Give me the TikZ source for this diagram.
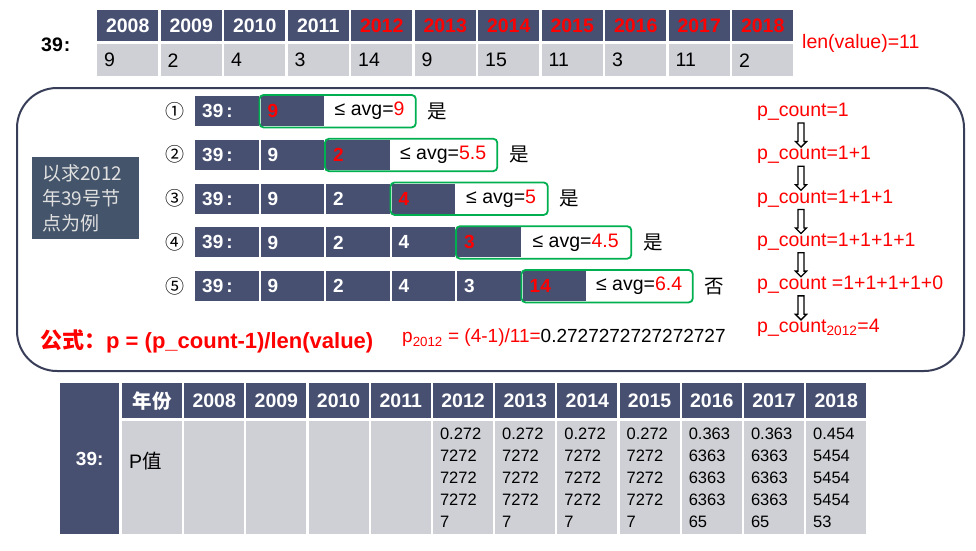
\documentclass[tikz,border=0pt]{standalone}
\usepackage{fontspec}
\setmainfont{Liberation Sans}
\newfontfamily\cjk{Noto Sans CJK SC}
\usetikzlibrary{positioning,fit,calc,shapes.arrows}

\definecolor{navy}{RGB}{71,80,113}
\definecolor{cellgray}{RGB}{207,208,213}
\definecolor{slate}{RGB}{68,84,106}
\definecolor{okgreen}{RGB}{0,176,80}
\definecolor{framecol}{RGB}{56,62,88}

\newcommand{\fs}[1]{\fontsize{#1}{#1}\selectfont}

\tikzset{
  headcell/.style={fill=navy, text=white, font=\bfseries\fs{19.5}, minimum width=61, minimum height=31, inner sep=0, anchor=north west},
  datacell/.style={fill=cellgray, font=\fs{19.5}, text width=47, inner xsep=7, inner ysep=0, minimum height=32, align=left, anchor=north west},
  rowcell/.style={fill=navy, text=white, font=\bfseries\fs{19}, text width=49.5, inner xsep=7, inner ysep=0, minimum height=30, align=left, anchor=north west},
  avgtext/.style={font=\fs{19.5}, minimum height=30, inner sep=0},
  greenbox/.style={draw=okgreen, line width=1.8, rounded corners=4, inner sep=1},
  answer/.style={font=\cjk\fs{19.5}, inner sep=0},
  numlabel/.style={font=\cjk\fs{19}, inner sep=0},
  countlabel/.style={text=red, font=\fs{19.5}, inner sep=0, anchor=west},
  downarrow/.style={single arrow, draw=black, fill=white, line width=1.3, minimum height=24, inner sep=2.3, single arrow head extend=2.6, shape border rotate=270},
  notebox/.style={fill=slate, text=white!88!black, font=\cjk\fontsize{19}{25}\selectfont, text width=87, inner xsep=10, minimum height=82, align=left, anchor=north west},
  pcell/.style={fill=cellgray, font=\fontsize{16.5}{22}\selectfont, text width=46, inner xsep=7, inner ysep=0, minimum height=113, align=left, anchor=north west}
}

\begin{document}
\begin{tikzpicture}[x=1pt, y=-1pt]
  \useasboundingbox (0,0) rectangle (976,550);

  % top table
  \node[font=\bfseries\fs{19.5}, anchor=west, inner sep=0] (lab) at (41,45) {39\kern1pt:};
  \foreach \yr/\val [count=\i from 0] in {2008/9,2009/2,2010/4,2011/3,2012/14,2013/9,2014/15,2015/11,2016/3,2017/11,2018/2}{
    \ifnum\yr>2011 \def\hc{red}\else\def\hc{white}\fi
    \node[headcell, text=\hc] (h\yr) at (97+63.5*\i,10) {\yr};
    \node[datacell] (d\yr) at (97+63.5*\i,44) {\val};
  }
  \node[countlabel] (len) at (802,43) {len(value)=11};

  % frame
  \draw[framecol, line width=2, rounded corners=40] (17,88) rectangle (964,371);

  \node[notebox] (note) at (32,157) {以求2012\\年39号节\\点为例};

  % steps
  \foreach \k/\v/\avg/\w/\ans/\num in {1/9/9/90/是/①, 2/2/5.5/106/是/②, 3/4/5/91/是/③, 4/3/4.5/109/是/④, 5/14/6.4/105/否/⑤}{
    \pgfmathsetmacro\ry{96+43.75*(\k-1)}
    \node[numlabel] (n\k) at (175,\ry+15) {\num};
    \node[rowcell] (r\k-0) at (195,\ry) {39\kern3pt:};
    \foreach \c/\cv in {1/9,2/2,3/4,4/3}{
      \ifnum\c<\k \node[rowcell] (r\k-\c) at (195+65.5*\c,\ry) {\cv};\fi
    }
    \node[rowcell, text=red] (g\k) at (195+65.5*\k,\ry) {\v};
    \node[avgtext, minimum width=\w, right=0pt of g\k] (t\k) {≤ avg={\color{red}\avg}};
    \node[greenbox, fit=(g\k)(t\k)] (b\k) {};
    \node[answer, right=11pt of b\k] (a\k) {\ans};
  }

  % counts
  \foreach \t [count=\i] in {p\_count=1, p\_count=1+1, p\_count=1+1+1, p\_count=1+1+1+1, p\_count =1+1+1+1+0, p\_count\textsubscript{2012}=4}{
    \node[countlabel] (pc\i) at (757,112+43.2*\i-43.2) {\t};
  }
  \foreach \i [evaluate=\i as \j using int(\i+1)] in {1,...,5}{
    \node[downarrow] (ar\i) at ($(pc\i.west)!0.5!(pc\j.west)+(44,0)$) {};
  }

  \node[text=red, font=\bfseries\fs{22}, anchor=west, inner sep=0] (formula) at (40,341) {{\cjk 公式：}p = (p\_count-1)/len(value)};
  \node[font=\fs{19}, anchor=west, inner sep=0] (calc) at (402,338) {{\color{red}p\textsubscript{2012} = (4-1)/11=}0.2727272727272727};

  % bottom table
  \node[headcell, minimum width=59, minimum height=151, font=\bfseries\fs{19}] (b39) at (60,383) {39:};
  \node[headcell, minimum width=60, minimum height=35, font=\cjk\bfseries\fs{19.5}] (byear) at (122,383) {年份};
  \node[pcell, font=\fs{19.5}, text depth=35] (bp) at (122,421) {P{\cjk 值}};
  \def\pa{0.272\\7272\\7272\\7272\\7}
  \def\pb{0.363\\6363\\6363\\6363\\65}
  \foreach \yr/\pv [count=\i from 0] in {2008/{},2009/{},2010/{},2011/{},2012/\pa,2013/\pa,2014/\pa,2015/\pa,2016/\pb,2017/\pb,2018/{0.454\\5454\\5454\\5454\\53}}{
    \node[headcell, minimum width=60, minimum height=35] (y\yr) at (184+62.2*\i,383) {\yr};
    \node[pcell] (p\yr) at (184+62.2*\i,421) {\pv};
  }
\end{tikzpicture}
\end{document}
